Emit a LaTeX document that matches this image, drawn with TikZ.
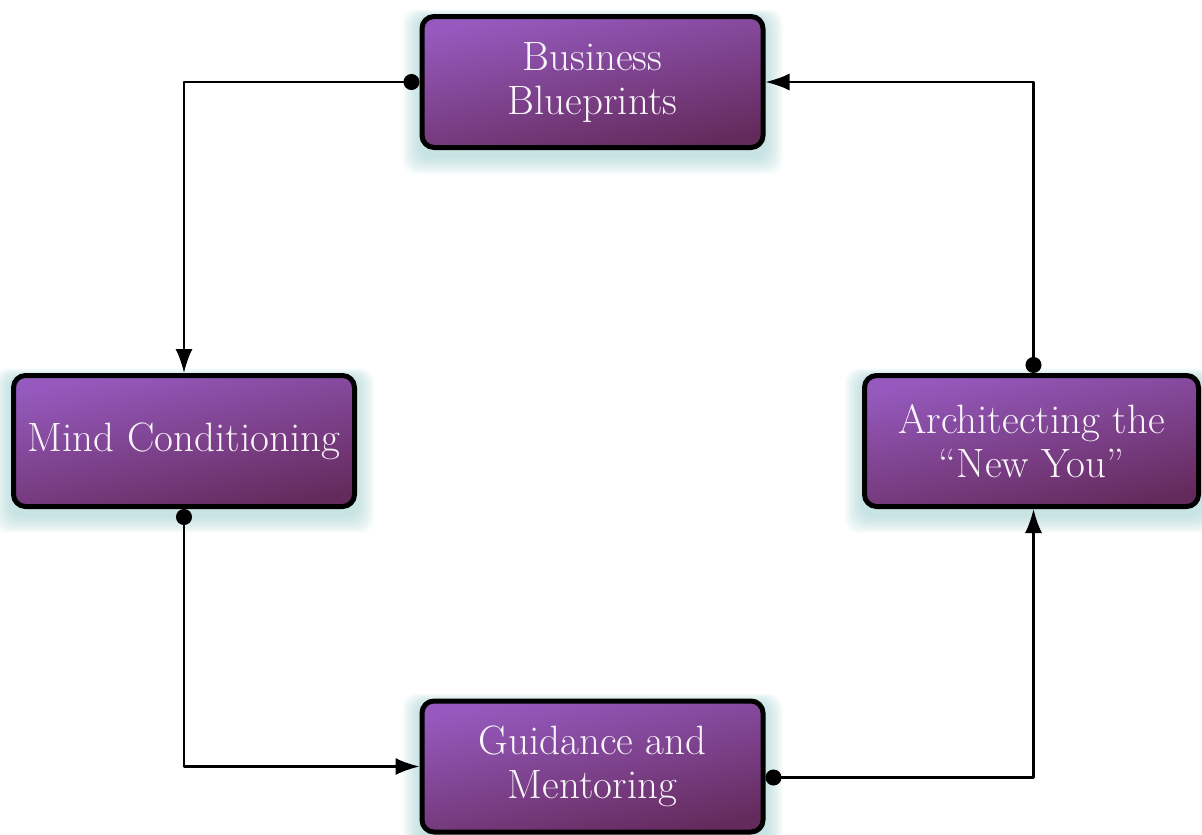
\documentclass[tikz,border=0pt]{standalone}
\usetikzlibrary{arrows.meta,backgrounds,calc}
\definecolor{boxtop}{HTML}{965ABF}
\definecolor{boxbot}{HTML}{652A5C}
\definecolor{boxtext}{HTML}{F8F5F8}
\definecolor{glowc}{HTML}{8CC4C4}
\tikzset{
	stagebox/.style={draw=black, line width=5pt, rounded corners=12pt, top color=boxtop, bottom color=boxbot, shading angle=12, text=boxtext, align=center, font=\fontsize{41}{44}\selectfont, minimum width=341pt, minimum height=131pt, inner sep=0pt},
	flow/.style={line width=2.2pt, {Circle[length=16pt]}-{Latex[length=24pt,width=17pt]}}
}
\begin{document}
\begin{tikzpicture}[x=1pt,y=-1pt,line join=round]
	\useasboundingbox (0,0) rectangle (1202,835);
	\node[stagebox] (bb) at (592.5,82) {Business\\Blueprints};
	\node[stagebox] (mc) at (184,441) {Mind Conditioning};
	\node[stagebox, minimum width=334pt] (an) at (1031.5,441) {Architecting the\\``New You''};
	\node[stagebox] (gm) at (592.5,766.5) {Guidance and\\Mentoring};
	% glow behind the boxes
	\begin{scope}[on background layer]
		\foreach \n in {bb,mc,an,gm}{
			\foreach \r in {1,3,...,17}{
				\fill[glowc, opacity=0.07, rounded corners=14pt] ($(\n.south west)+(-\r,\r+7)$) rectangle ($(\n.north east)+(\r,-0.5*\r+4)$);
			}
		}
	\end{scope}
	\draw[flow] (bb.west) -| (mc.north);
	\draw[flow] (mc.south) |- (gm.west);
	\draw[flow] ([yshift=-11pt]gm.east) -| ([xshift=2pt]an.south);
	\draw[flow] ([xshift=2pt]an.north) |- (bb.east);
\end{tikzpicture}
\end{document}
